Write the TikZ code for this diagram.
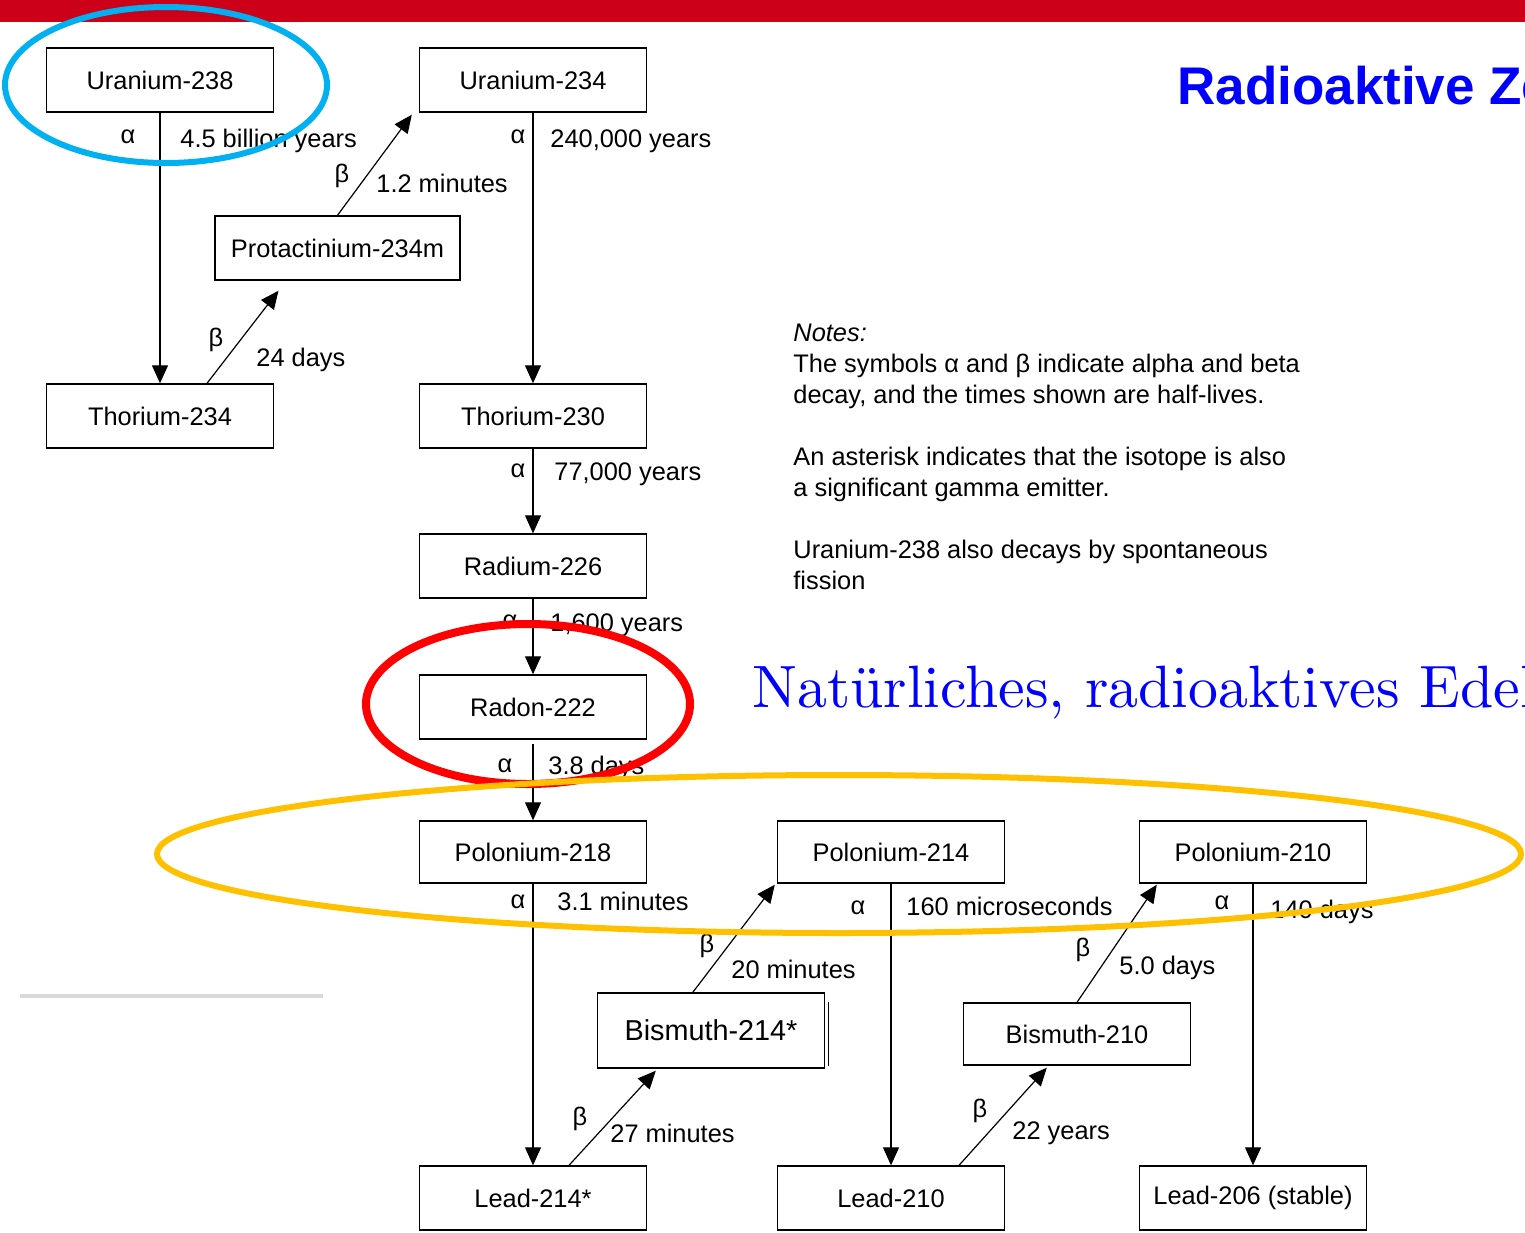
\documentclass[tikz,border=0pt]{standalone}
\usepackage{fontspec}
\usetikzlibrary{calc, arrows.meta}
\newfontfamily\arial{Liberation Sans}
\newfontfamily\lmten{lmroman10-regular}[Extension=.otf]
\definecolor{BarRed}{HTML}{CC0019}
\definecolor{TitleBlue}{HTML}{0000FF}
\definecolor{RingBlue}{HTML}{00B0F0}
\definecolor{RingRed}{HTML}{FF0000}
\definecolor{RingYellow}{HTML}{FFC000}
\def\txt{\arial\fontsize{12.7}{15.5}\selectfont}

\begin{document}
\begin{tikzpicture}[
    x=0.5pt, y=-0.5pt,
    >={Triangle[length=9pt, width=8pt]},
    isoBox/.style={draw, line width=0.7pt, rectangle, minimum width=113.5pt, minimum height=32pt, inner sep=0pt, font=\txt},
    decay/.style={->, line width=0.6pt},
    sym/.style={font=\txt, inner sep=0pt},
    halfLife/.style={font=\txt, anchor=base west, inner sep=0pt},
    ring/.style={line width=3pt},
  ]
  \useasboundingbox (0,0) rectangle (1525,1232);
  \clip (0,0) rectangle (1525,1232);
  % header
  \fill[BarRed] (0,0) rectangle (1525,22);
  \node[anchor=base west, inner sep=0pt, text=TitleBlue, font=\arial\bfseries\fontsize{26.5}{30}\selectfont] (title) at (1177,104) {Radioaktive Ze};
  \node[anchor=base west, inner sep=0pt, text=TitleBlue, font=\lmten\fontsize{29.9}{34}\selectfont] (subtitle) at (752,707) {Natürliches, radioaktives Edel};
  \draw[gray!30, line width=2pt] (20,996) -- (323,996);

  % isotopes
  \node[isoBox] (U238) at (160,80) {Uranium-238};
  \node[isoBox] (U234) at (533,80) {Uranium-234};
  \node[isoBox, minimum width=122.5pt] (Pa234m) at (337.5,248) {Protactinium-234m};
  \node[isoBox] (Th234) at (160,416) {Thorium-234};
  \node[isoBox] (Th230) at (533,416) {Thorium-230};
  \node[isoBox] (Ra226) at (533,566) {Radium-226};
  \node[isoBox] (Rn222) at (533,707) {Radon-222};
  \node[isoBox, minimum height=31pt] (Po218) at (533,852) {Polonium-218};
  \node[isoBox, minimum height=31pt] (Po214) at (891,852) {Polonium-214};
  \node[isoBox, minimum height=31pt] (Po210) at (1253,852) {Polonium-210};
  \node[isoBox, minimum height=37.5pt, font=\arial\fontsize{14.4}{17}\selectfont] (Bi214) at (711,1030.5) {Bismuth-214*};
  \node[isoBox, minimum height=31pt] (Bi210) at (1077,1034) {Bismuth-210};
  \node[isoBox] (Pb214) at (533,1198) {Lead-214*};
  \node[isoBox] (Pb210) at (891,1198) {Lead-210};
  \node[isoBox] (Pb206) at (1253,1198) {Lead-206 (stable)};
  \draw[line width=0.7pt] ($(Bi214.north east)+(3,10)$) -- ($(Bi214.south east)+(3,-3)$);

  % decays
  \draw[decay] (U238) -- (Th234);
  \draw[decay] ($(Th234.north)+(47,0)$) -- ($(Pa234m.south)+(-59,10)$);
  \draw[decay] (Pa234m.north) -- ($(U234.south west)+(-7,2)$);
  \draw[decay] (U234) -- (Th230);
  \draw[decay] (Th230) -- (Ra226);
  \draw[decay] (Ra226) -- (Rn222);
  \draw[decay, shorten <=2pt] (Rn222) -- (Po218);
  \draw[decay] (Po218) -- (Pb214);
  \draw[decay] ($(Pb214.north)+(36,0)$) -- ($(Bi214.south west)+(59,2)$);
  \draw[decay] ($(Bi214.north west)+(96,0)$) -- ($(Po214.south west)+(-2,1)$);
  \draw[decay] (Po214) -- (Pb210);
  \draw[decay] ($(Pb210.north)+(68,0)$) -- ($(Bi210.south west)+(84,2)$);
  \draw[decay] (Bi210.north) -- ($(Po210.south west)+(18,1)$);
  \draw[decay] (Po210) -- (Pb206);

  % labels
  \node[sym] (aU238) at (128,137) {α};
  \node[halfLife] (tU238) at (180,147) {4.5 billion years};
  \node[sym] (bTh234) at (216,340) {β};
  \node[halfLife] (tTh234) at (256,366) {24 days};
  \node[sym] (bPa234m) at (342,176) {β};
  \node[halfLife] (tPa234m) at (376,192) {1.2 minutes};
  \node[sym] (aU234) at (518,137) {α};
  \node[halfLife] (tU234) at (550,147) {240,000 years};
  \node[sym] (aTh230) at (518,471) {α};
  \node[halfLife] (tTh230) at (554,480) {77,000 years};
  \node[sym] (aRa226) at (510,622) {α};
  \node[halfLife] (tRa226) at (550,631) {1,600 years};
  \node[sym] (aRn222) at (505,766) {α};
  \node[halfLife] (tRn222) at (548,774) {3.8 days};
  \node[sym] (aPo218) at (518,902) {α};
  \node[halfLife] (tPo218) at (557,910) {3.1 minutes};
  \node[sym] (bPb214) at (580,1119) {β};
  \node[halfLife] (tPb214) at (610,1142) {27 minutes};
  \node[sym] (bBi214) at (707,946) {β};
  \node[halfLife] (tBi214) at (731,978) {20 minutes};
  \node[sym] (aPo214) at (858,908) {α};
  \node[halfLife] (tPo214) at (906,915) {160 microseconds};
  \node[sym] (bPb210) at (980,1111) {β};
  \node[halfLife] (tPb210) at (1012,1139) {22 years};
  \node[sym] (bBi210) at (1083,950) {β};
  \node[halfLife] (tBi210) at (1119,974) {5.0 days};
  \node[sym] (aPo210) at (1222,903) {α};
  \node[halfLife] (tPo210) at (1270,918) {140 days};

  % notes
  \node[anchor=north west, inner sep=0pt, align=left, font=\txt] (notes) at (793,324)
    {\textit{Notes:}\\
     The symbols α and β indicate alpha and beta\\
     decay, and the times shown are half-lives.\\[15.5pt]
     An asterisk indicates that the isotope is also\\
     a significant gamma emitter.\\[15.5pt]
     Uranium-238 also decays by spontaneous\\
     fission};

  % highlights
  \draw[ring, RingBlue] (166,85) ellipse [x radius=161, y radius=78];
  \draw[ring, RingRed, line width=4pt] (528,704) ellipse [x radius=162, y radius=80];
  \draw[ring, RingYellow] (839,854) ellipse [x radius=682, y radius=79];
\end{tikzpicture}
\end{document}
